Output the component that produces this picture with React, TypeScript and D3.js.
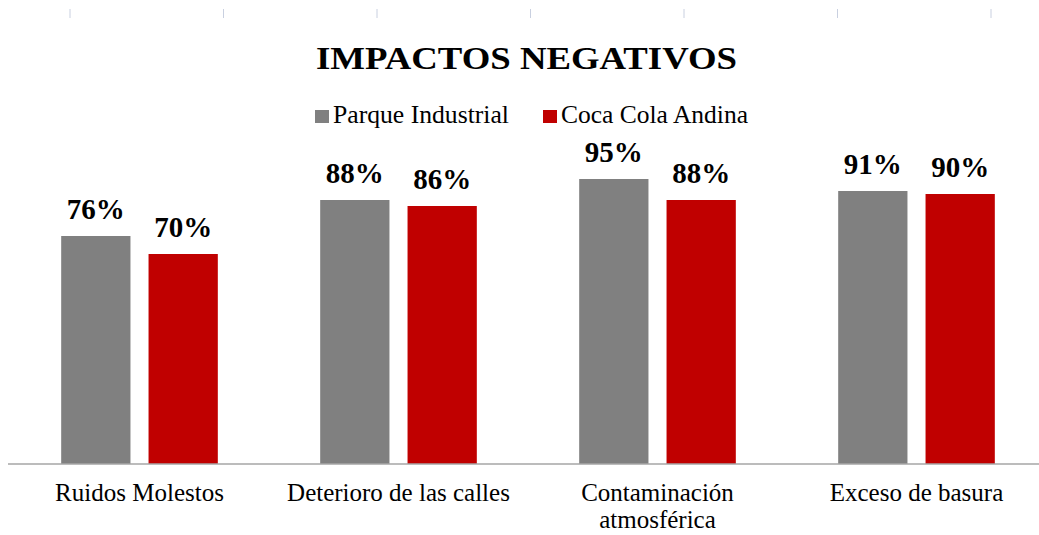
import React from "react";
import * as d3 from "d3";

const categories = ["Ruidos Molestos", "Deterioro de las calles", "Contaminación atmosférica", "Exceso de basura"];
const categoryLines = [["Ruidos Molestos"], ["Deterioro de las calles"], ["Contaminación", "atmosférica"], ["Exceso de basura"]];
const seriesNames = ["Parque Industrial", "Coca Cola Andina"];
const parqueValues = [76, 88, 95, 91];
const cocaValues = [70, 86, 88, 90];
const seriesColors = ["#808080", "#c00000"];
const topTicks = [0, 1, 2, 3, 4, 5, 6];

const W = 1039;
const H = 535;
const FONT = "'Liberation Serif', 'Times New Roman', serif";

export default function App() {
  const values = [parqueValues, cocaValues];
  const x = d3.scaleBand<string>().domain(categories).range([10, 1046]).paddingInner(0).paddingOuter(0);
  const xs = d3.scaleBand<string>().domain(seriesNames).range([0, x.bandwidth()]).paddingInner(0.207).paddingOuter(0.586);
  const y = d3.scaleLinear().domain([0, 100]).range([464, 164]);
  const tickX = d3.scaleLinear().domain([0, 6]).range([70, 991]);

  return (
    <svg width={W} height={H} style={{ position: "absolute", left: 0, top: 0, display: "block", background: "#fff" }}>
      {topTicks.map((t) => (
        <line key={t} x1={tickX(t)} x2={tickX(t)} y1={9} y2={18} stroke="#c9d0e0" strokeWidth={1} />
      ))}
      <text x={526.5} y={69} textAnchor="middle" fontFamily={FONT} fontWeight="bold" fontSize={31} textLength={421} lengthAdjust="spacingAndGlyphs" fill="#000">
        IMPACTOS NEGATIVOS
      </text>
      {/* legend */}
      <g fontFamily={FONT} fontSize={25} fill="#000">
        <rect x={315} y={110} width={14} height={13} fill={seriesColors[0]} />
        <text x={333} y={123} textLength={176} lengthAdjust="spacingAndGlyphs">{seriesNames[0]}</text>
        <rect x={543} y={110} width={14} height={13} fill={seriesColors[1]} />
        <text x={561} y={123} textLength={187} lengthAdjust="spacingAndGlyphs">{seriesNames[1]}</text>
      </g>
      {categories.map((c, ci) => (
        <g key={c}>
          {seriesNames.map((s, si) => {
            const v = values[si][ci];
            const bx = (x(c) as number) + (xs(s) as number);
            return (
              <g key={s}>
                <rect x={bx} y={y(v)} width={xs.bandwidth()} height={y(0) - y(v)} fill={seriesColors[si]} />
                <text x={bx + xs.bandwidth() / 2} y={y(v) - 17} textAnchor="middle" fontFamily={FONT} fontWeight="bold" fontSize={29} fill="#000">
                  {v}%
                </text>
              </g>
            );
          })}
          {categoryLines[ci].map((ln, li) => (
            <text key={li} x={(x(c) as number) + x.bandwidth() / 2} y={501 + li * 27} textAnchor="middle" fontFamily={FONT} fontSize={25} fill="#000">
              {ln}
            </text>
          ))}
        </g>
      ))}
      <line x1={8} x2={W} y1={y(0)} y2={y(0)} stroke="#a6a6a6" strokeWidth={1.5} />
    </svg>
  );
}
